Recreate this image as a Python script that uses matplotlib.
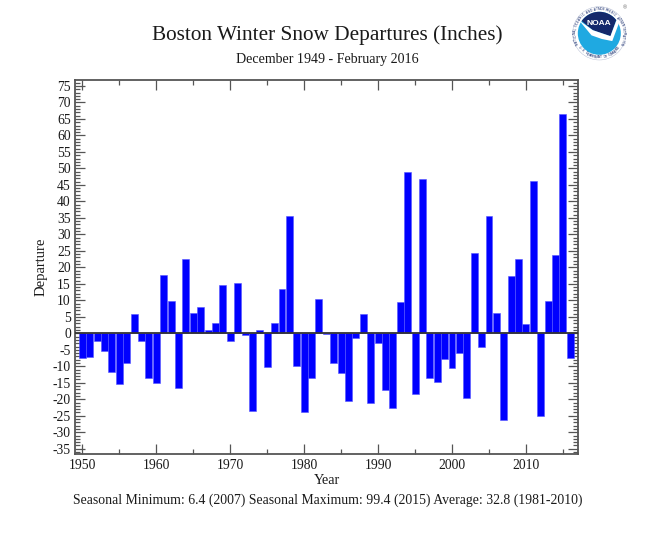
import numpy as np
import matplotlib
matplotlib.use('Agg')
import matplotlib.pyplot as plt
from matplotlib.patches import Circle, Polygon
from matplotlib.ticker import MultipleLocator

plt.rcParams['font.family'] = ['Liberation Serif', 'DejaVu Serif']
plt.rcParams['axes.unicode_minus'] = False

# data
years = list(range(1950, 2017))
departures = [-7.5, -7.2, -2.3, -5.5, -11.8, -15.3, -8.9, 6.0, -2.3, -13.6,
              -15.0, 17.7, 9.8, -16.6, 22.6, 6.3, 8.1, 1.1, 3.0, 14.5,
              -2.4, 15.2, -0.6, -23.5, 1.1, -10.1, 3.0, 13.5, 35.6, -10.0,
              -24.0, -13.6, 10.4, -0.3, -8.9, -12.0, -20.5, -1.5, 5.9, -21.0,
              -2.8, -17.2, -22.7, 9.4, 48.8, -18.5, 46.8, -13.4, -14.8, -7.9,
              -10.5, -6.1, -19.5, 24.2, -4.1, 35.5, 6.1, -26.4, 17.4, 22.4,
              2.8, 46.1, -25.2, 9.7, 23.7, 66.6, -7.5]
x_ticks = [1950, 1960, 1970, 1980, 1990, 2000, 2010]
y_ticks = [75, 70, 65, 60, 55, 50, 45, 40, 35, 30, 25, 20, 15, 10, 5, 0,
           -5, -10, -15, -20, -25, -30, -35]

W, H = 650, 534
line_col = '#555555'
text_col = '#1a1a1a'

fig = plt.figure(figsize=(W / 100, H / 100), dpi=100)
ax = fig.add_axes([75 / W, 1 - 453.7 / H, (577.7 - 75) / W, (453.7 - 80) / H])

ax.bar(years, departures, width=0.94, color='#0000ff', edgecolor='#5555ff',
       linewidth=0.4, zorder=2)
ax.axhline(0, color='#333333', lw=1.3, zorder=3)

ax.set_xlim(1949, 2017)
ax.set_ylim(-36.5, 76.8)
ax.set_xticks(x_ticks)
ax.set_yticks(y_ticks)
ax.xaxis.set_minor_locator(MultipleLocator(5))
ax.yaxis.set_minor_locator(MultipleLocator(1))

ax.tick_params(axis='both', which='major', direction='in', length=7.2, width=0.9,
               color=line_col, top=True, right=True, labelsize=9.8,
               labelcolor=text_col)
ax.tick_params(axis='both', which='minor', direction='in', length=3.6, width=0.9,
               color=line_col, top=True, right=True)
ax.tick_params(axis='x', which='major', pad=4)
ax.tick_params(axis='y', which='major', pad=3)
for s in ax.spines.values():
    s.set_color(line_col)
    s.set_linewidth(1.3)

# titles and labels, placed by pixel
fig.text(327 / W, 1 - 35 / H, 'Boston Winter Snow Departures (Inches)',
         ha='center', va='center', fontsize=15.3, color=text_col)
fig.text(327 / W, 1 - 60 / H, 'December 1949 - February 2016',
         ha='center', va='center', fontsize=10.1, color=text_col)
fig.text(327 / W, 1 - 481 / H, 'Year', ha='center', va='center',
         fontsize=10.3, color=text_col)
fig.text(41 / W, 1 - 267 / H, 'Departure', rotation=90, ha='center', va='center',
         fontsize=10.5, color=text_col)
fig.text(327.5 / W, 1 - 500 / H,
         'Seasonal Minimum: 6.4 (2007) Seasonal Maximum: 99.4 (2015) Average: 32.8 (1981-2010)',
         ha='center', va='center', fontsize=9.9, color=text_col)

# NOAA logo
logo = fig.add_axes([570.8 / W, 1 - 61.8 / H, 57 / W, 57 / H])
logo.set_xlim(-1.1, 1.1)
logo.set_ylim(-1.1, 1.1)
logo.axis('off')
logo.add_patch(Circle((0, 0), 1.03, fc='white', ec='#aab4cc', lw=0.3))
logo.add_patch(Circle((0, 0), 0.83, fc='#1fa9e1', ec='none'))
arc = np.radians(np.linspace(38, 145, 30))
navy = [(0.83 * np.cos(a), 0.83 * np.sin(a)) for a in arc]
navy += [(-0.25, 0.12), (0.43, -0.11)]
logo.add_patch(Polygon(navy, fc='#14296b', ec='none'))
logo.add_patch(Polygon([(-0.78, 0.5), (-0.25, 0.12), (0.43, -0.11), (0.66, 0.5),
                        (0.78, 0.45), (0.5, -0.3), (0.1, -0.22), (-0.3, -0.08)],
                       fc='white', ec='none'))
logo.text(0, 0.37, 'NOAA', color='white', fontsize=6, fontweight='bold',
          ha='center', va='center', family=['Liberation Sans', 'DejaVu Sans'])
logo.text(0.98, 1.0, '®', color='#666666', fontsize=4, ha='center', va='center',
          family=['Liberation Sans', 'DejaVu Sans'])

# lettering round the ring of the seal
top_ring = 'NATIONAL OCEANIC AND ATMOSPHERIC ADMINISTRATION'
for ch, a in zip(top_ring, np.linspace(205, -25, len(top_ring))):
    r = np.radians(a)
    logo.text(0.93 * np.cos(r), 0.93 * np.sin(r), ch, fontsize=2.3, color='#14296b',
              rotation=a - 90, ha='center', va='center',
              family=['Liberation Sans', 'DejaVu Sans'])
bottom_ring = 'U.S. DEPARTMENT OF COMMERCE'
for ch, a in zip(bottom_ring, np.linspace(215, 325, len(bottom_ring))):
    r = np.radians(a)
    logo.text(0.93 * np.cos(r), 0.93 * np.sin(r), ch, fontsize=2.3, color='#14296b',
              rotation=a + 90, ha='center', va='center',
              family=['Liberation Sans', 'DejaVu Sans'])

fig.savefig('out.png', dpi=100)
